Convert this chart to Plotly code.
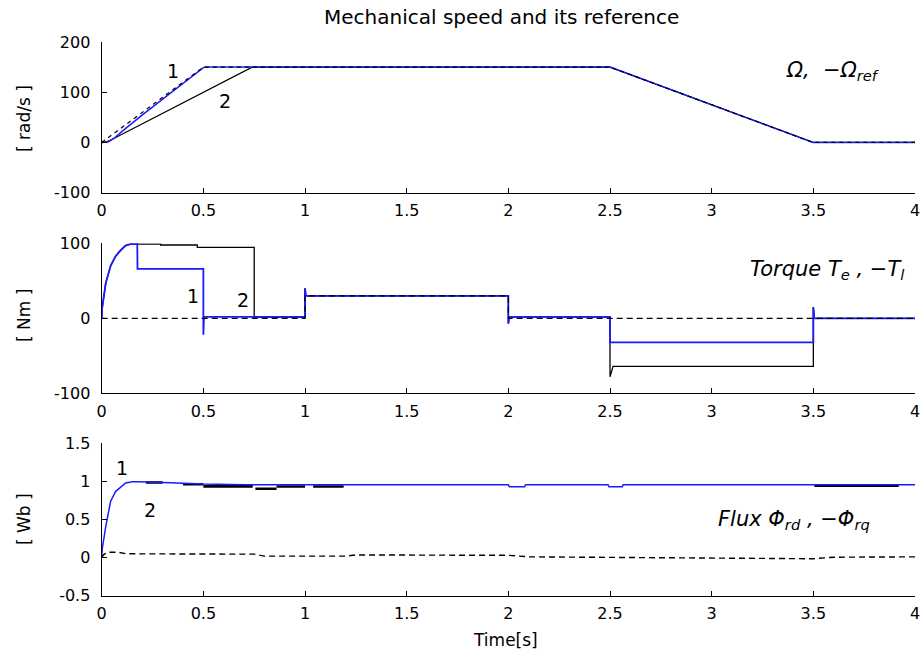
import plotly.graph_objects as go

# ---------------- data ----------------
title_text = "Mechanical speed and its reference"

# Speed subplot (rad/s)
speed_ref_t = [0, 0.5, 2.5, 3.5, 4.0]
speed_ref_v = [0, 150, 150, 0, 0]
speed1_t = [0, 0.03, 0.06, 0.10, 0.20, 0.50, 0.51, 2.5, 3.5, 4.0]
speed1_v = [0, 1, 8, 22, 55, 149, 150, 150, 0, 0]
speed2_t = [0, 0.02, 0.05, 0.74, 2.5, 3.5, 4.0]
speed2_v = [0, 1, 6, 150, 150, 0, 0]

# Torque subplot (Nm)
torque1_t = [0, 0.002, 0.02, 0.044, 0.069, 0.094, 0.118, 0.14, 0.175, 0.176, 0.5, 0.5, 0.503,
             1.0, 1.0, 1.004, 2.0, 2.0, 2.004, 2.5, 2.5, 3.5, 3.5, 3.504, 4.0]
torque1_v = [0, 13, 47, 70, 83, 91, 97, 99, 99, 66, 66, -22, 2,
             2, 40, 30, 30, -7, 2, 2, -32, -32, 15, 0, 0]
torque2_t = [0, 0.002, 0.02, 0.044, 0.069, 0.094, 0.118, 0.14, 0.29, 0.29, 0.47, 0.47, 0.75, 0.75,
             1.0, 1.0, 1.004, 2.0, 2.0, 2.004, 2.5, 2.5, 2.515, 3.5, 3.5, 3.504, 4.0]
torque2_v = [0, 13, 47, 70, 83, 91, 97, 99, 99, 97.7, 97.7, 94.6, 94.6, 1.5,
             1.5, 40, 30, 30, -7, 2, 2, -78, -64, -64, 15, 0, 0]
load_t = [0, 1.0, 1.0, 2.0, 2.0, 4.0]
load_v = [0, 0, 30, 30, 0, 0]

# Flux subplot (Wb)
flux1_t = [0, 0.003, 0.02, 0.044, 0.069, 0.094, 0.118, 0.15, 0.18, 0.30, 0.50, 0.70,
           2.0, 2.005, 2.08, 2.085, 2.49, 2.495, 2.56, 2.565, 4.0]
flux1_v = [0, 0.12, 0.41, 0.74, 0.87, 0.93, 0.98, 0.995, 0.995, 0.985, 0.965, 0.957,
           0.957, 0.93, 0.93, 0.957, 0.957, 0.93, 0.93, 0.957, 0.957]
flux2_t = [0.217, 0.30, None, 0.40, 0.50, None, 0.50, 0.743, None, 0.756, 0.86, None,
           0.86, 1.0, None, 1.04, 1.19, None, 3.505, 3.92]
flux2_v = [0.985, 0.985, None, 0.962, 0.962, None, 0.935, 0.935, None, 0.904, 0.904, None,
           0.934, 0.934, None, 0.934, 0.934, None, 0.943, 0.943]
fluxq_t = [0, 0.01, 0.03, 0.08, 0.12, 0.55, 0.75, 0.80, 1.2, 1.25, 2.0, 2.1, 2.6, 3.2, 3.5, 3.6, 4.0]
fluxq_v = [0, 0.04, 0.07, 0.07, 0.05, 0.05, 0.045, 0.02, 0.02, 0.035, 0.03, 0.01, 0.0, -0.015, -0.015, 0.005, 0.01]

x_ticks = [0, 0.5, 1, 1.5, 2, 2.5, 3, 3.5, 4]
x_ticktext = ["0", "0.5", "1", "1.5", "2", "2.5", "3", "3.5", "4"]
y1_ticks = [-100, 0, 100, 200]
y1_ticktext = ["-100", "0", "100", "200"]
y2_ticks = [-100, 0, 100]
y2_ticktext = ["-100", "0", "100"]
y3_ticks = [-0.5, 0, 0.5, 1, 1.5]
y3_ticktext = ["-0.5", "0", "0.5", "1", "1.5"]

# ---------------- figure ----------------
W, H = 920, 653
BLUE = "#1a1aff"
FONT = "DejaVu Sans"

def px_x(p):
    return p / W

def px_y(p):
    return 1 - p / H

fig = go.Figure()

def add(t, v, xa, ya, color, width, dash="solid"):
    fig.add_trace(go.Scatter(x=t, y=v, mode="lines", xaxis=xa, yaxis=ya,
                             line=dict(color=color, width=width, dash=dash),
                             showlegend=False, hoverinfo="skip", connectgaps=False))

# speed
add(speed2_t, speed2_v, "x", "y", "black", 1.2)
add(speed1_t, speed1_v, "x", "y", BLUE, 1.5)
add(speed_ref_t, speed_ref_v, "x", "y", "black", 1.2, "4px,4px")
# torque
add(torque2_t, torque2_v, "x2", "y2", "black", 1.3)
add(torque1_t, torque1_v, "x2", "y2", BLUE, 1.8)
add(load_t, load_v, "x2", "y2", "black", 1.2, "6px,4px")
# flux
add(flux2_t, flux2_v, "x3", "y3", "black", 2.6)
add(flux1_t, flux1_v, "x3", "y3", BLUE, 1.5)
add(fluxq_t, fluxq_v, "x3", "y3", "black", 1.4, "6px,4px")

xdom = [px_x(101.7), px_x(915)]
doms = [
    [px_y(192.7), px_y(42)],
    [px_y(393.3), px_y(243.3)],
    [px_y(595.7), px_y(443.3)],
]

axis_common = dict(showline=True, linecolor="black", linewidth=1.3, mirror=False,
                   ticks="inside", ticklen=5, tickwidth=1.2, tickcolor="black",
                   showgrid=False, zeroline=False, automargin=False,
                   ticklabeloverflow="allow",
                   tickfont=dict(family=FONT, size=16, color="black"))

layout = dict(
    width=W, height=H,
    margin=dict(l=0, r=0, t=0, b=0, pad=0, autoexpand=False),
    paper_bgcolor="white", plot_bgcolor="white",
    font=dict(family=FONT, color="black"),
)

yranges = [[-100, 200], [-100, 100], [-0.5, 1.5]]
ytv = [(y1_ticks, y1_ticktext), (y2_ticks, y2_ticktext), (y3_ticks, y3_ticktext)]
for i in range(3):
    sx = "xaxis" if i == 0 else f"xaxis{i+1}"
    sy = "yaxis" if i == 0 else f"yaxis{i+1}"
    yid = "y" if i == 0 else f"y{i+1}"
    xid = "x" if i == 0 else f"x{i+1}"
    layout[sx] = dict(domain=xdom, anchor=yid, range=[0, 4], tickmode="array",
                      tickvals=x_ticks, ticktext=x_ticktext, ticklabelstandoff=3, **axis_common)
    layout[sy] = dict(domain=doms[i], anchor=xid, range=yranges[i], tickmode="array",
                      tickvals=ytv[i][0], ticktext=ytv[i][1], ticklabelstandoff=7, **axis_common)

fig.update_layout(**layout)

ann = []
def text(xp, yp, s, size, xanchor="center", yanchor="middle"):
    ann.append(dict(x=px_x(xp), y=px_y(yp), xref="paper", yref="paper", text=s,
                    showarrow=False, xanchor=xanchor, yanchor=yanchor,
                    font=dict(family=FONT, size=size, color="black")))

text(501, 17, title_text, 20)
text(505, 640, "Time[s]", 17)
for yp, lab in [(119, "[ rad/s ]"), (316, "[ Nm ]"), (519, "[ Wb ]")]:
    ann.append(dict(x=px_x(24), y=px_y(yp), xref="paper", yref="paper", text=lab, textangle=-90,
                    showarrow=False, xanchor="center", yanchor="middle",
                    font=dict(family=FONT, size=17, color="black")))

# curve labels 1/2 (in data coords)
curve_labels = [("x", "y", 0.351, 141.7, "1"), ("x", "y", 0.607, 82, "2"),
                ("x2", "y2", 0.447, 30.4, "1"), ("x2", "y2", 0.696, 25, "2"),
                ("x3", "y3", 0.0975, 1.17, "1"), ("x3", "y3", 0.238, 0.63, "2")]
for xa, ya, xv, yv, s in curve_labels:
    ann.append(dict(x=xv, y=yv, xref=xa, yref=ya, text=s, showarrow=False,
                    font=dict(family=FONT, size=19, color="black")))

text(882, 56, "<i>Ω,  −Ω<sub>ref</sub></i>", 21, xanchor="right", yanchor="top")
text(907, 255, "<i>Torque T<sub>e</sub> , −T<sub>l</sub></i>", 21, xanchor="right", yanchor="top")
text(872, 505, "<i>Flux Φ<sub>rd</sub> , −Φ<sub>rq</sub></i>", 21, xanchor="right", yanchor="top")

fig.update_layout(annotations=ann)
fig.write_html("out.html")
